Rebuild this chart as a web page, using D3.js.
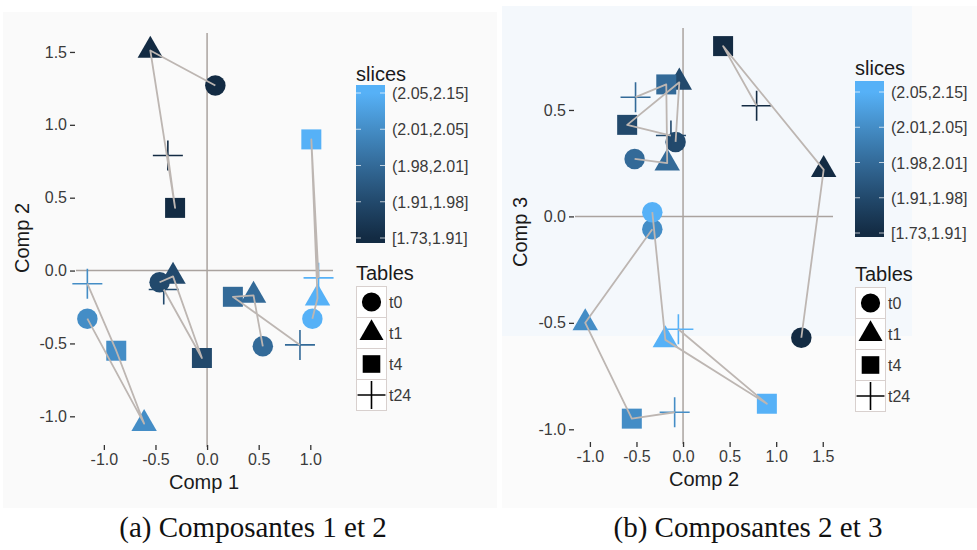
<!DOCTYPE html>
<html>
<head>
<meta charset="utf-8">
<script src="https://cdn.jsdelivr.net/npm/d3@7"></script>
<style>
  html, body { margin: 0; padding: 0; background: #ffffff; }
  svg { display: block; }
  .tick text { font-family: "Liberation Sans", Arial, sans-serif; }
</style>
</head>
<body>
<svg id="chart" width="977" height="550"></svg>
<script>
// Slice intervals (colour) and sampling tables (shape)
const slices = ["[1.73,1.91]", "(1.91,1.98]", "(1.98,2.01]", "(2.01,2.05]", "(2.05,2.15]"];
const tables = ["t0", "t1", "t4", "t24"];

// Component scores: one row per slice, one column per table (t0, t1, t4, t24)
const comp1 = [
  [ 0.08, -0.55, -0.31, -0.38],
  [-0.46, -0.33, -0.05, -0.42],
  [ 0.54,  0.45,  0.25,  0.90],
  [-1.16, -0.61, -0.88, -1.16],
  [ 1.02,  1.07,  1.01,  1.08]
];
const comp2 = [
  [ 1.27,  1.51,  0.43,  0.79],
  [-0.08, -0.04, -0.60, -0.13],
  [-0.52, -0.17, -0.18, -0.51],
  [-0.33, -1.05, -0.55, -0.09],
  [-0.33, -0.19,  0.90, -0.05]
];
const comp3 = [
  [-0.57,  0.22,  0.80,  0.52],
  [ 0.35,  0.63,  0.43,  0.38],
  [ 0.27,  0.25,  0.62,  0.56],
  [-0.06, -0.50, -0.95, -0.92],
  [ 0.02, -0.58, -0.88, -0.53]
];

// Axis ticks
const ticksA_x = [-1.0, -0.5, 0.0, 0.5, 1.0];
const ticksA_y = [-1.0, -0.5, 0.0, 0.5, 1.0, 1.5];
const ticksB_x = [-1.0, -0.5, 0.0, 0.5, 1.0, 1.5];
const ticksB_y = [-1.0, -0.5, 0.0, 0.5];

const captions = ["(a) Composantes 1 et 2", "(b) Composantes 2 et 3"];

// ---------------------------------------------------------------------------
const svg = d3.select("#chart");
const fmt = v => v.toFixed(1);
const sliceColor = d3.scaleOrdinal()
  .domain(slices)
  .range(slices.map((s, i) => d3.interpolateLab("#132B43", "#56B1F7")(i / (slices.length - 1))));

// thin "+" glyph
const symbolPlus = {
  draw(ctx, size) {
    const r = Math.sqrt(size) / 2;
    ctx.moveTo(-r, 0); ctx.lineTo(r, 0);
    ctx.moveTo(0, -r); ctx.lineTo(0, r);
  }
};
const shapeOf = d3.scaleOrdinal().domain(tables)
  .range([d3.symbolCircle, d3.symbolTriangle, d3.symbolSquare, symbolPlus]);
const sizeOf = d3.scaleOrdinal().domain(tables).range([330, 280, 400, 900]);
const legendSize = d3.scaleOrdinal().domain(tables).range([290, 250, 310, 780]);

// panel backgrounds
svg.append("rect").attr("x", 3).attr("y", 12).attr("width", 494).attr("height", 496).attr("fill", "#fafafa");
svg.append("rect").attr("x", 502).attr("y", 6).attr("width", 475).attr("height", 502).attr("fill", "#fbfbfb");
svg.append("rect").attr("x", 502).attr("y", 6).attr("width", 410).attr("height", 330).attr("fill", "#f4f8fc");

// gradient for the colour bar
const defs = svg.append("defs");

function panel(cfg) {
  const g = svg.append("g");
  const x = d3.scaleLinear().domain(cfg.xDomain).range(cfg.xRange);
  const y = d3.scaleLinear().domain(cfg.yDomain).range(cfg.yRange);

  // reference lines through the origin
  g.append("line")
    .attr("x1", cfg.xRange[0]).attr("x2", cfg.xRange[1])
    .attr("y1", y(0)).attr("y2", y(0))
    .attr("stroke", "#aaa39f").attr("stroke-width", 1.5);
  g.append("line")
    .attr("x1", x(0)).attr("x2", x(0))
    .attr("y1", cfg.yRange[1]).attr("y2", cfg.yRange[0] + 3)
    .attr("stroke", "#aaa39f").attr("stroke-width", 1.5);

  // axes
  const ax = g.append("g").attr("transform", `translate(0,${cfg.yRange[0] + 1})`)
    .call(d3.axisBottom(x).tickValues(cfg.xTicks).tickFormat(fmt).tickSize(5).tickPadding(4));
  const ay = g.append("g").attr("transform", `translate(${cfg.xRange[0] - 1},0)`)
    .call(d3.axisLeft(y).tickValues(cfg.yTicks).tickFormat(fmt).tickSize(5).tickPadding(3));
  [ax, ay].forEach(a => {
    a.select(".domain").remove();
    a.selectAll(".tick line").attr("stroke", "#333").attr("stroke-width", 1.3);
    a.selectAll(".tick text").attr("font-size", 16).attr("fill", "#3a3a3a");
  });

  g.append("text")
    .attr("x", cfg.xTitlePos[0]).attr("y", cfg.xTitlePos[1])
    .attr("text-anchor", "middle")
    .attr("font-family", "Liberation Sans, Arial, sans-serif")
    .attr("font-size", 20).attr("fill", "#1a1a1a")
    .text(cfg.xTitle);
  g.append("text")
    .attr("transform", `translate(${cfg.yTitlePos[0]},${cfg.yTitlePos[1]}) rotate(-90)`)
    .attr("text-anchor", "middle")
    .attr("font-family", "Liberation Sans, Arial, sans-serif")
    .attr("font-size", 20).attr("fill", "#1a1a1a")
    .text(cfg.yTitle);

  // build point records
  const pts = [];
  slices.forEach((s, i) => tables.forEach((t, j) => {
    pts.push({ slice: s, table: t, px: cfg.xs[i][j], py: cfg.ys[i][j] });
  }));

  // points
  g.selectAll("path.pt").data(pts).join("path")
    .attr("class", "pt")
    .attr("transform", d => `translate(${x(d.px)},${y(d.py)})`)
    .attr("d", d => d3.symbol(shapeOf(d.table), sizeOf(d.table))())
    .attr("fill", d => d.table === "t24" ? "none" : sliceColor(d.slice))
    .attr("stroke", d => d.table === "t24" ? sliceColor(d.slice) : "none")
    .attr("stroke-width", 1.6);

  // trajectories t0 -> t1 -> t4 -> t24 for each slice
  const line = d3.line().x(d => x(d.px)).y(d => y(d.py));
  g.selectAll("path.traj").data(slices).join("path")
    .attr("class", "traj")
    .attr("d", s => line(pts.filter(p => p.slice === s)))
    .attr("fill", "none")
    .attr("stroke", "#bdb6b2").attr("stroke-width", 1.8)
    .attr("stroke-linejoin", "round");

  legend(cfg.legend);

  svg.append("text")
    .attr("x", cfg.caption[0]).attr("y", cfg.caption[1])
    .attr("text-anchor", "middle")
    .attr("font-family", "Liberation Serif, Times New Roman, serif")
    .attr("font-size", 29).attr("fill", "#111")
    .text(cfg.captionText);
}

function legend(L) {
  const g = svg.append("g");
  const font = "Liberation Sans, Arial, sans-serif";
  g.append("text").attr("x", L.x).attr("y", L.titleY)
    .attr("font-family", font).attr("font-size", 20).attr("fill", "#1a1a1a").text("slices");

  const ly = d3.scalePoint().domain(slices.slice().reverse()).range([L.labelTop, L.labelBottom]);
  const gradId = "grad" + L.id;
  const grad = defs.append("linearGradient").attr("id", gradId)
    .attr("gradientUnits", "userSpaceOnUse")
    .attr("x1", 0).attr("x2", 0).attr("y1", L.labelBottom).attr("y2", L.labelTop);
  slices.forEach((s, i) => grad.append("stop")
    .attr("offset", i / (slices.length - 1)).attr("stop-color", sliceColor(s)));
  g.append("rect").attr("x", L.x).attr("y", L.barTop)
    .attr("width", 29).attr("height", L.barBottom - L.barTop)
    .attr("fill", `url(#${gradId})`);
  slices.forEach(s => {
    [[L.x, L.x + 5], [L.x + 24, L.x + 29]].forEach(([a, b]) => g.append("line")
      .attr("x1", a).attr("x2", b).attr("y1", ly(s)).attr("y2", ly(s))
      .attr("stroke", "#ffffff").attr("stroke-opacity", 0.7).attr("stroke-width", 1));
    g.append("text").attr("x", L.x + 36).attr("y", ly(s) + 6)
      .attr("font-family", font).attr("font-size", 16).attr("fill", "#3a3a3a").text(s);
  });

  g.append("text").attr("x", L.x).attr("y", L.tablesY)
    .attr("font-family", font).attr("font-size", 20).attr("fill", "#1a1a1a").text("Tables");
  const kh = 31;
  tables.forEach((t, j) => {
    const ky = L.keyTop + j * kh;
    g.append("rect").attr("x", L.x + 0.5).attr("y", ky + 0.5).attr("width", 30).attr("height", kh)
      .attr("fill", "#ffffff").attr("stroke", "#d8d0ce").attr("stroke-width", 1);
    g.append("path")
      .attr("transform", `translate(${L.x + 15.5},${ky + kh / 2 + 0.5})`)
      .attr("d", d3.symbol(shapeOf(t), legendSize(t))())
      .attr("fill", t === "t24" ? "none" : "#000")
      .attr("stroke", t === "t24" ? "#000" : "none")
      .attr("stroke-width", 1.6);
    g.append("text").attr("x", L.x + 33).attr("y", ky + kh / 2 + 6)
      .attr("font-family", font).attr("font-size", 16).attr("fill", "#3a3a3a").text(t);
  });
}

panel({
  xs: comp1, ys: comp2,
  xDomain: [-1.27, 1.22], xRange: [76, 333],
  yDomain: [-1.19, 1.63], yRange: [444, 33],
  xTicks: ticksA_x, yTicks: ticksA_y,
  xTitle: "Comp 1", yTitle: "Comp 2",
  xTitlePos: [204, 489], yTitlePos: [29, 238],
  caption: [253, 537], captionText: captions[0],
  legend: { id: "A", x: 356, titleY: 81, barTop: 85, barBottom: 243,
            labelTop: 93, labelBottom: 238, tablesY: 280, keyTop: 286 }
});

panel({
  xs: comp2, ys: comp3,
  xDomain: [-1.16, 1.61], xRange: [575, 833],
  yDomain: [-1.055, 0.885], yRange: [441, 28],
  xTicks: ticksB_x, yTicks: ticksB_y,
  xTitle: "Comp 2", yTitle: "Comp 3",
  xTitlePos: [704, 486], yTitlePos: [527, 232],
  caption: [748, 537], captionText: captions[1],
  legend: { id: "B", x: 855, titleY: 75, barTop: 81, barBottom: 237,
            labelTop: 92, labelBottom: 233, tablesY: 281, keyTop: 287 }
});
</script>
</body>
</html>
